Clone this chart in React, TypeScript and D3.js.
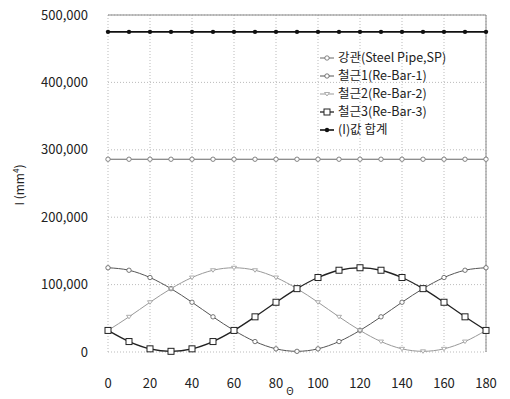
import React from "react";
import * as d3 from "d3";

// angle (deg)
const angles = [0, 10, 20, 30, 40, 50, 60, 70, 80, 90, 100, 110, 120, 130, 140, 150, 160, 170, 180];
// I values (mm^4)
const steelPipe = [286000, 286000, 286000, 286000, 286000, 286000, 286000, 286000, 286000, 286000, 286000, 286000, 286000, 286000, 286000, 286000, 286000, 286000, 286000];
const reBar1 = [125000, 121300, 110500, 94000, 73800, 52200, 32000, 15500, 4700, 1000, 4700, 15500, 32000, 52200, 73800, 94000, 110500, 121300, 125000];
const reBar2 = [32000, 52200, 73800, 94000, 110500, 121300, 125000, 121300, 110500, 94000, 73800, 52200, 32000, 15500, 4700, 1000, 4700, 15500, 32000];
const reBar3 = [32000, 15500, 4700, 1000, 4700, 15500, 32000, 52200, 73800, 94000, 110500, 121300, 125000, 121300, 110500, 94000, 73800, 52200, 32000];
const total = [475000, 475000, 475000, 475000, 475000, 475000, 475000, 475000, 475000, 475000, 475000, 475000, 475000, 475000, 475000, 475000, 475000, 475000, 475000];

const xTicks = [0, 20, 40, 60, 80, 100, 120, 140, 160, 180];
const yTicks = [0, 100000, 200000, 300000, 400000, 500000];

const seriesNames = ["강관(Steel Pipe,SP)", "철근1(Re-Bar-1)", "철근2(Re-Bar-2)", "철근3(Re-Bar-3)", "(I)값 합계"];

const font = "'Noto Sans CJK KR', 'Noto Sans', sans-serif";

const margin = { left: 108, right: 24, top: 15, bottom: 47 };
const W = 510;
const H = 399;

const series = [
  { name: seriesNames[0], values: steelPipe, color: "#666", width: 1, marker: "circle" },
  { name: seriesNames[1], values: reBar1, color: "#555", width: 1, marker: "circle" },
  { name: seriesNames[2], values: reBar2, color: "#999", width: 1, marker: "tri" },
  { name: seriesNames[3], values: reBar3, color: "#222", width: 1.3, marker: "square" },
  { name: seriesNames[4], values: total, color: "#111", width: 1.6, marker: "dot" },
];

function Marker({ type, x, y, color }: { type: string; x: number; y: number; color: string }) {
  if (type === "square") {
    return <rect x={x - 3} y={y - 3} width={6} height={6} fill="#fff" stroke={color} strokeWidth={1} />;
  }
  if (type === "dot") {
    return <circle cx={x} cy={y} r={2.2} fill={color} />;
  }
  if (type === "tri") {
    return <path d={`M${x - 2.5},${y - 1.5}L${x + 2.5},${y - 1.5}L${x},${y + 2}Z`} fill="#fff" stroke={color} strokeWidth={0.8} />;
  }
  return <circle cx={x} cy={y} r={2.2} fill="#fff" stroke={color} strokeWidth={0.8} />;
}

export default function App() {
  const x = d3.scaleLinear().domain([0, 180]).range([margin.left, W - margin.right]);
  const y = d3.scaleLinear().domain([0, 500000]).range([H - margin.bottom, margin.top]);
  const fmt = d3.format(",");

  const line = (vals: number[]) =>
    d3.line<number>().x((_, i) => x(angles[i])).y((d) => y(d)).curve(d3.curveMonotoneX)(vals) || "";

  return (
    <svg width={W} height={H} style={{ position: "absolute", left: 0, top: 0, background: "#fff" }}>
      {/* grid */}
      {xTicks.map((t) => (
        <line key={"gx" + t} x1={x(t)} x2={x(t)} y1={y(500000)} y2={y(0)} stroke="#aaa" strokeWidth={0.8} strokeDasharray="1,2" />
      ))}
      {yTicks.map((t) => (
        <line key={"gy" + t} x1={x(0)} x2={x(180)} y1={y(t)} y2={y(t)} stroke="#aaa" strokeWidth={0.8} strokeDasharray="1,2" />
      ))}
      {/* frame: top and right */}
      <line x1={x(0)} x2={x(180)} y1={y(500000)} y2={y(500000)} stroke="#888" strokeWidth={1} />
      <line x1={x(180)} x2={x(180)} y1={y(500000)} y2={y(0)} stroke="#888" strokeWidth={1} />

      {/* tick labels */}
      {yTicks.map((t) => (
        <text key={"ty" + t} x={88} y={y(t)} dy="0.35em" textAnchor="end" fontFamily={font} fontSize={13} fill="#222">
          {fmt(t)}
        </text>
      ))}
      {xTicks.map((t) => (
        <text key={"tx" + t} x={x(t)} y={383} dy="0.35em" textAnchor="middle" fontFamily={font} fontSize={13} fill="#222">
          {t}
        </text>
      ))}
      <text transform="translate(20,185) rotate(-90)" textAnchor="middle" dy="0.35em" fontFamily={font} fontSize={12} fill="#222">
        I (mm<tspan fontSize={8} dy="-5">4</tspan><tspan dy="5">)</tspan>
      </text>
      <text x={290} y={395} textAnchor="middle" fontFamily={font} fontSize={10} fill="#222">Θ</text>

      {/* series */}
      {series.map((s) => (
        <g key={s.name}>
          <path d={line(s.values)} fill="none" stroke={s.color} strokeWidth={s.width} />
          {s.values.map((v, i) => (
            <Marker key={i} type={s.marker} x={x(angles[i])} y={y(v)} color={s.color} />
          ))}
        </g>
      ))}

      {/* legend */}
      {series.map((s, i) => {
        const ly = 58 + i * 18;
        return (
          <g key={"lg" + i}>
            <line x1={320} x2={334} y1={ly} y2={ly} stroke={s.color} strokeWidth={s.width} />
            <Marker type={s.marker} x={327} y={ly} color={s.color} />
            <text x={338} y={ly} dy="0.35em" fontFamily={font} fontSize={12.5} fill="#222">
              {s.name}
            </text>
          </g>
        );
      })}
    </svg>
  );
}
